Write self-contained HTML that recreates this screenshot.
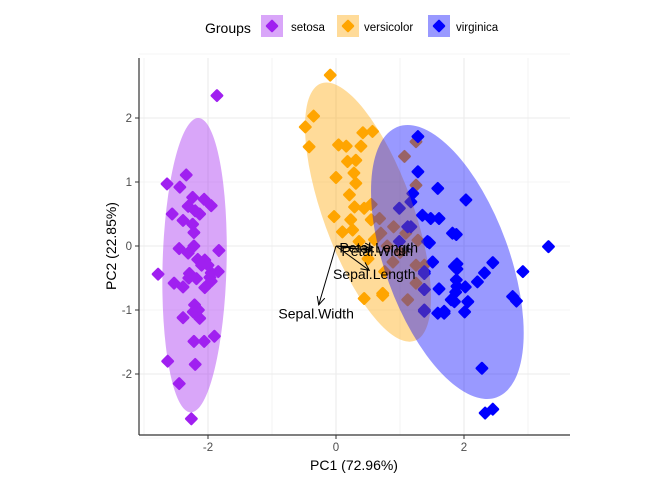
<!DOCTYPE html>
<html><head><meta charset="utf-8"><style>
html,body{margin:0;padding:0;background:#fff;}
svg{display:block;font-family:"Liberation Sans",sans-serif;}
</style></head><body>
<svg id="chart" width="672" height="480" viewBox="0 0 672 480">
<g id="grid"></g>
<g id="pts"></g>
<g id="ells"></g>
<g id="arrows"></g>
<g id="axes"></g>
<g id="legend"></g>
</svg>
<script>
const groups = ["setosa","versicolor","virginica"];
const colors = ["#A020F0","#FFA500","#0000FF"];
const setosaX = [-1.86,-2.34,-2.64,-2.44,-2.24,-2.06,-1.95,-2.31,-2.56,-2.13,-2.39,-2.24,-2.22,-2.45,-2.22,-2.31,-1.83,-2.16,-2.05,-2.10,-2.78,-2.29,-1.95,-1.84,-2.18,-1.97,-2.53,-2.39,-2.05,-2.21,-2.23,-2.13,-2.39,-2.22,-2.06,-1.90,-2.63,-2.20,-2.45,-2.26,-2.2,-2.0,-2.3,-2.15,-1.95];
const setosaY = [2.35,1.11,0.97,0.92,0.76,0.73,0.63,0.62,0.50,0.50,0.40,0.34,0.21,-0.04,0,-0.11,-0.07,-0.21,-0.22,-0.30,-0.44,-0.43,-0.42,-0.40,-0.51,-0.49,-0.58,-0.64,-0.65,-0.92,-1.03,-1.13,-1.12,-1.49,-1.49,-1.41,-1.80,-1.85,-2.15,-2.70,0.55,-0.3,-0.5,-1.0,-0.55];
const versiX = [-0.09,-0.35,-0.48,-0.42,0.04,0.16,0.42,0.57,0.18,0.31,0.28,0.0,0.31,0.21,0.29,-0.03,0.23,0.10,0.26,0.36,0.44,0.73,0.39,1.25,1.07,1.25,0.55,0.68,0.70,1.09,0.44,1.25,1.25,1.12,0.89,1.28,1.38,0.76,0.73,0.6,0.9,0.5,1.0,0.8,0.55];
const versiY = [2.67,2.03,1.86,1.55,1.58,1.56,1.77,1.79,1.32,1.34,1.14,1.07,0.98,0.80,0.61,0.46,0.41,0.22,0.25,0.07,-0.82,-0.77,1.56,1.63,1.40,0.95,0.41,0.43,0.20,0.20,0.59,-0.30,-0.58,-0.84,-0.25,0.09,-0.30,-0.40,-0.74,0.1,0.3,-0.2,-0.1,0.0,0.65];
const virgX = [1.28,1.28,1.59,2.03,1.20,1.17,0.99,1.35,1.61,1.48,1.17,1.82,1.88,3.32,1.46,1.51,1.89,2.45,1.89,2.32,2.92,2.21,1.38,1.89,2.02,1.87,1.61,1.38,2.76,2.82,1.85,2.06,2.01,1.69,1.59,1.38,2.28,2.33,2.45,1.12,1.43,0.99,1.38,1.38,1.38,1.85,1.88,1.80,1.69];
const virgY = [1.71,1.16,0.90,0.72,0.82,0.69,0.59,0.48,0.43,0.43,0.30,0.20,0.18,-0.01,0.05,-0.25,-0.28,-0.26,-0.36,-0.42,-0.40,-0.56,-0.43,-0.63,-0.64,-0.72,-0.67,-0.68,-0.79,-0.86,-0.87,-0.87,-1.03,-1.02,-1.05,-1.02,-1.91,-2.61,-2.55,0.30,0.07,0.07,-0.40,-0.68,-1.0,-0.32,-0.53,-0.84,-1.05];
const ellCx = [-2.21,0.50,1.74];
const ellCy = [-0.30,0.53,-0.25];
const ellRx = [0.5,0.70,0.97];
const ellRy = [2.3,2.14,2.25];
const ellAngle = [1.5,-20,-20];
const varNames = ["Sepal.Length","Sepal.Width","Petal.Length","Petal.Width"];
const loadX = [0.52,-0.27,0.58,0.56];
const loadY = [-0.38,-0.92,-0.02,-0.07];
const xTicks = [-2,0,2];
const yTicks = [-2,-1,0,1,2];

const NS="http://www.w3.org/2000/svg";
const L=139,R=570,T=58,B=435;
const sx=v=>336+v*64, sy=v=>246-v*64;
function mk(tag,attrs,parent){const e=document.createElementNS(NS,tag);for(const k in attrs)e.setAttribute(k,attrs[k]);parent.appendChild(e);return e;}
const grid=document.getElementById('grid');
for(let v=-3;v<=3;v++){
  const g=mk('line',{x1:sx(v),x2:sx(v),y1:T,y2:B,stroke:'#ebebeb','stroke-width':v%2===0?1.1:0.6},grid);
  
  
  const h=mk('line',{x1:L,x2:R,y1:sy(v),y2:sy(v),stroke:'#ebebeb','stroke-width':v%2===0?1.1:0.6},grid);
  
  
}
const pts=document.getElementById('pts');
const allX=[setosaX,versiX,virgX], allY=[setosaY,versiY,virgY];
function diamond(cx,cy,r){return `M${cx},${cy-r}L${cx+r},${cy}L${cx},${cy+r}L${cx-r},${cy}Z`;}
for(let g=0;g<3;g++){
  for(let i=0;i<allX[g].length;i++){
    const p=mk('path',{d:diamond(sx(allX[g][i]),sy(allY[g][i]),5.2),fill:colors[g],stroke:colors[g],'stroke-width':2.5,'stroke-linejoin':'round'},pts);
    
    
  }
}
const ells=document.getElementById('ells');
for(let g=0;g<3;g++){
  const e=mk('ellipse',{cx:sx(ellCx[g]),cy:sy(ellCy[g]),rx:ellRx[g]*64,ry:ellRy[g]*64,fill:colors[g],'fill-opacity':0.4,transform:`rotate(${ellAngle[g]} ${sx(ellCx[g])} ${sy(ellCy[g])})`},ells);
  
  
}
const arr=document.getElementById('arrows');
for(let i=0;i<4;i++){
  const x0=sx(0),y0=sy(0),x1=sx(loadX[i]),y1=sy(loadY[i]);
  const ln=mk('line',{x1:x0,y1:y0,x2:x1,y2:y1,stroke:'#000','stroke-width':1},arr);
  
  
  const a=Math.atan2(y1-y0,x1-x0),h=9,w=0.45;
  const hd=mk('path',{d:`M${x1-h*Math.cos(a-w)},${y1-h*Math.sin(a-w)}L${x1},${y1}L${x1-h*Math.cos(a+w)},${y1-h*Math.sin(a+w)}`,fill:'none',stroke:'#000','stroke-width':1},arr);
  
  
  const t=mk('text',{x:sx(loadX[i]*1.15),y:sy(loadY[i]*1.15)+5,'text-anchor':'middle','font-size':14,fill:'#000'},arr);
  t.textContent=varNames[i];
  
  
}
const ax=document.getElementById('axes');
mk('line',{x1:L,x2:L,y1:T,y2:B,stroke:'#333','stroke-width':1.2},ax);
mk('line',{x1:L,x2:R,y1:B,y2:B,stroke:'#333','stroke-width':1.2},ax);
xTicks.forEach(v=>{
  mk('line',{x1:sx(v),x2:sx(v),y1:B,y2:B+4,stroke:'#333'},ax);
  const t=mk('text',{x:sx(v),y:B+16,'text-anchor':'middle','font-size':11.5,fill:'#4d4d4d'},ax);
  t.textContent=v;  
});
yTicks.forEach(v=>{
  mk('line',{x1:L-4,x2:L,y1:sy(v),y2:sy(v),stroke:'#333'},ax);
  const t=mk('text',{x:L-7,y:sy(v)+4,'text-anchor':'end','font-size':11.5,fill:'#4d4d4d'},ax);
  t.textContent=v;  
});
</script>
<script>
(function(){
const NS="http://www.w3.org/2000/svg";
function mk(tag,attrs,parent){const e=document.createElementNS(NS,tag);for(const k in attrs)e.setAttribute(k,attrs[k]);parent.appendChild(e);return e;}
const ax=document.getElementById('axes');
const xt=mk('text',{x:354,y:470,'text-anchor':'middle','font-size':14,fill:'#000'},ax);
xt.textContent='PC1 (72.96%)';


const yt=mk('text',{x:0,y:0,'text-anchor':'middle','font-size':14,fill:'#000',transform:'translate(116,246) rotate(-90)'},ax);
yt.textContent='PC2 (22.85%)';


const lg=document.getElementById('legend');
const gt=mk('text',{x:205,y:33,'font-size':14,fill:'#000'},lg);
gt.textContent='Groups';


const keyX=[261,337,428], labX=[291,364,456];
for(let g=0;g<3;g++){
  const r=mk('rect',{x:keyX[g],y:15,width:22,height:22,fill:colors[g],'fill-opacity':0.4},lg);
  
  
  const cx=keyX[g]+11,cy=26;
  const d=mk('path',{d:`M${cx},${cy-5}L${cx+5},${cy}L${cx},${cy+5}L${cx-5},${cy}Z`,fill:colors[g],stroke:colors[g],'stroke-width':2.5,'stroke-linejoin':'round'},lg);
  
  
  const t=mk('text',{x:labX[g],y:31,'font-size':11.5,fill:'#000'},lg);
  t.textContent=groups[g];
  
  
}
})();
</script>
</body></html>
